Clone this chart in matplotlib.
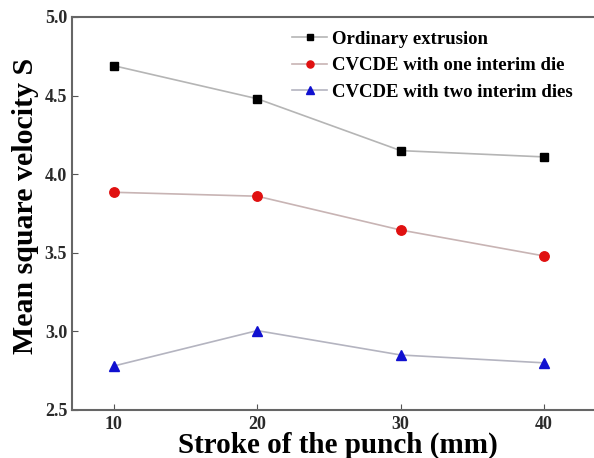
"""Mean square velocity vs punch stroke."""

import matplotlib
matplotlib.use("Agg")
import matplotlib.pyplot as plt

stroke = [10, 20, 30, 40]
ordinary = [4.69, 4.48, 4.15, 4.11]
one_die = [3.885, 3.86, 3.645, 3.48]
two_dies = [2.78, 3.005, 2.85, 2.80]

labels = ["Ordinary extrusion", "CVCDE with one interim die", "CVCDE with two interim dies"]

plt.rcParams["font.family"] = "Liberation Serif"
plt.rcParams["font.weight"] = "bold"

fig = plt.figure(figsize=(5.94, 4.58), dpi=100)
ax = fig.add_axes([72 / 594, 48 / 458, 1 - 72 / 594 + 0.01, 393 / 458])

ax.plot(stroke, ordinary, color="#b5b5b5", lw=1.2, marker="s", ms=6.3,
        mfc="black", mec="black", label=labels[0])
ax.plot(stroke, one_die, color="#c8b4b4", lw=1.2, marker="o", ms=6.8,
        mfc="#e01010", mec="#e01010", label=labels[1])
ax.plot(stroke, two_dies, color="#b4b4c0", lw=1.2, marker="^", ms=6.8,
        mfc="#1010d0", mec="#1010d0", label=labels[2])

ax.set_xlim(7.08, 43.9)
ax.set_ylim(2.5, 5.0)
ax.set_xticks(stroke)
ax.set_yticks([2.5, 3.0, 3.5, 4.0, 4.5, 5.0])
ax.set_yticklabels(["2.5", "3.0", "3.5", "4.0", "4.5", "5.0"])
ax.tick_params(direction="in", length=4, labelsize=13, color="#555555")
ax.tick_params(axis="x", pad=4.5)
for lab in ax.get_xticklabels() + ax.get_yticklabels():
    lab.set_fontweight("bold")
    lab.set_color("#2a2a2a")

for side in ["left", "bottom", "top"]:
    ax.spines[side].set_color("#666666")
    ax.spines[side].set_linewidth(1.5)
ax.spines["right"].set_visible(False)

ax.set_xlabel("Stroke of the punch (mm)", fontsize=21, fontweight="bold")
ax.xaxis.set_label_coords(0.503, -43 / 393)
ax.xaxis.label.set_va("baseline")
ax.set_ylabel("Mean square velocity S", fontsize=21.5, fontweight="bold", labelpad=4)
ax.yaxis.label.set_y(0.52)

leg = ax.legend(loc="upper left", bbox_to_anchor=(0.385, 1.008), frameon=False,
                fontsize=13.5, handlelength=1.87, handletextpad=0.27, labelspacing=0.5,
                markerscale=0.75)
for t in leg.get_texts():
    t.set_fontweight("bold")

fig.savefig("out.png", dpi=100)
